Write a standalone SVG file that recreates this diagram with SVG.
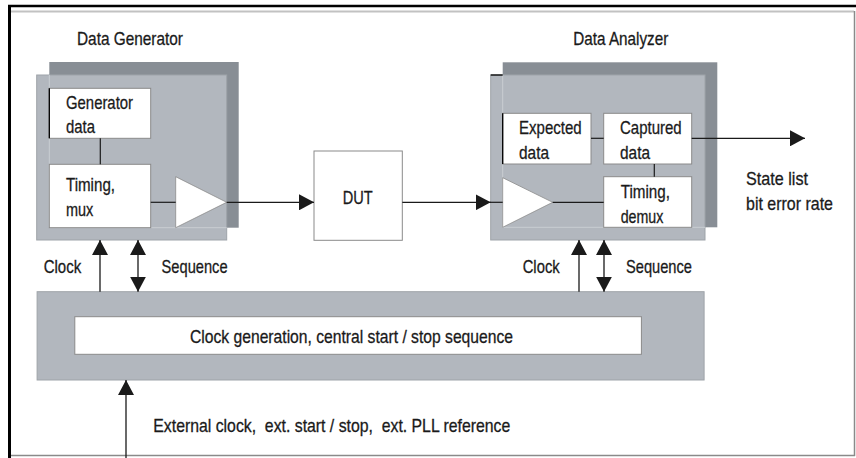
<svg xmlns="http://www.w3.org/2000/svg" width="856" height="458" viewBox="0 0 856 458">
<defs>
<style>
text{font-family:"Liberation Sans",Arial,sans-serif;font-size:19px;fill:#1a1a1a;stroke:#1a1a1a;stroke-width:0.3;}
.shadow{fill:#888e95;}
.front{fill:#b2b7be;stroke:#9ea3a9;stroke-width:1;}
.ghost{stroke:#c9cdd2;stroke-width:1;fill:none;}
.wbox{fill:#fff;stroke:#8a8a8a;stroke-width:1;}
.tri{fill:#fff;stroke:#8a8a8a;stroke-width:0.8;}
.edge{stroke:#000;stroke-width:1.3;fill:none;}
.wire{stroke:#1a1a1a;stroke-width:1.2;fill:none;}
.arr{stroke:#1a1a1a;stroke-width:1.3;fill:none;marker-end:url(#ah);}
.arr2{stroke:#1a1a1a;stroke-width:1.3;fill:none;marker-end:url(#ah);marker-start:url(#ahs);}
</style>
<marker id="ah" markerUnits="userSpaceOnUse" markerWidth="15" markerHeight="16" refX="15" refY="8" orient="auto" viewBox="0 0 15 16">
<path d="M0,0 L15,8 L0,16 z" fill="#1a1a1a"/>
</marker>
<marker id="ahs" markerUnits="userSpaceOnUse" markerWidth="15" markerHeight="16" refX="15" refY="8" orient="auto-start-reverse" viewBox="0 0 15 16">
<path d="M0,0 L15,8 L0,16 z" fill="#1a1a1a"/>
</marker>
</defs>

<g id="frame">
<line x1="8" y1="6" x2="856" y2="6" stroke="#000" stroke-width="2.5"/>
<line x1="9.5" y1="5" x2="9.5" y2="458" stroke="#000" stroke-width="3"/>
<line x1="11" y1="11.5" x2="854" y2="11.5" stroke="#c2c2c2" stroke-width="2"/>
<line x1="854.5" y1="11" x2="854.5" y2="456" stroke="#8a8a8a" stroke-width="1.5"/>
<line x1="11" y1="455.5" x2="855" y2="455.5" stroke="#8a8a8a" stroke-width="1.5"/>
</g>

<g id="data-generator">
<text x="77" y="45" textLength="106" lengthAdjust="spacingAndGlyphs">Data Generator</text>
<rect class="shadow" x="49.3" y="62" width="189.4" height="165.7"/>
<rect class="front" x="36.7" y="75" width="190" height="165"/>
<line class="ghost" x1="49.3" y1="75" x2="49.3" y2="227.7"/>
<line class="ghost" x1="49.3" y1="227.7" x2="226.7" y2="227.7"/>
<g id="generator-data">
<rect class="wbox" x="49.3" y="88.3" width="101.4" height="50"/>
<line class="edge" x1="49.3" y1="88.3" x2="49.3" y2="138.3"/>
<text x="66" y="109.3" textLength="67" lengthAdjust="spacingAndGlyphs">Generator</text>
<text x="66" y="132.7" textLength="29" lengthAdjust="spacingAndGlyphs">data</text>
</g>
<g id="timing-mux">
<rect class="wbox" x="49.3" y="164.3" width="101.4" height="63.4"/>
<text x="66" y="190.5" textLength="49" lengthAdjust="spacingAndGlyphs">Timing,</text>
<text x="66" y="215.5" textLength="27.3" lengthAdjust="spacingAndGlyphs">mux</text>
</g>
<g id="gen-driver">
<polygon class="tri" points="175.7,176.7 226.7,202.3 175.7,227.7"/>
</g>
</g>

<g id="dut">
<rect class="wbox" x="314" y="151" width="88.3" height="89.3"/>
<text x="342.7" y="204.3" textLength="30" lengthAdjust="spacingAndGlyphs">DUT</text>
</g>

<g id="data-analyzer">
<text x="573.3" y="45" textLength="95" lengthAdjust="spacingAndGlyphs">Data Analyzer</text>
<rect class="shadow" x="502.7" y="62.3" width="214.6" height="165"/>
<rect class="front" x="490.7" y="75" width="214.3" height="165"/>
<line class="ghost" x1="502.7" y1="75" x2="502.7" y2="227.3"/>
<line class="ghost" x1="502.7" y1="227.3" x2="705" y2="227.3"/>
<line class="edge" x1="490.7" y1="75" x2="502.7" y2="75"/>
<g id="expected-data">
<rect class="wbox" x="502.7" y="113.3" width="88.3" height="50.7"/>
<line class="edge" x1="502.7" y1="113.3" x2="502.7" y2="164"/>
<text x="519" y="134.3" textLength="62.7" lengthAdjust="spacingAndGlyphs">Expected</text>
<text x="519" y="159" textLength="30" lengthAdjust="spacingAndGlyphs">data</text>
</g>
<g id="captured-data">
<rect class="wbox" x="603.7" y="113.3" width="88" height="50.7"/>
<text x="620" y="134.3" textLength="61.7" lengthAdjust="spacingAndGlyphs">Captured</text>
<text x="620" y="159" textLength="30" lengthAdjust="spacingAndGlyphs">data</text>
</g>
<g id="timing-demux">
<rect class="wbox" x="603.7" y="176.7" width="88" height="50.6"/>
<text x="620.7" y="197.7" textLength="49.3" lengthAdjust="spacingAndGlyphs">Timing,</text>
<text x="620.7" y="222.7" textLength="42.7" lengthAdjust="spacingAndGlyphs">demux</text>
</g>
<g id="ana-receiver">
<polygon class="tri" points="502.7,177.7 552.7,202.3 502.7,227.3"/>
</g>
</g>

<g id="clock-generation">
<rect class="front" x="37.1" y="291.7" width="667" height="88.3"/>
<rect class="wbox" x="74.8" y="316.7" width="566.6" height="37.6"/>
<text x="190" y="343.3" textLength="323" lengthAdjust="spacingAndGlyphs">Clock generation, central start / stop sequence</text>
</g>

<g id="connectors">
<line class="wire" x1="100.3" y1="138.3" x2="100.3" y2="164.3"/>
<line class="wire" x1="150.7" y1="202.3" x2="175.7" y2="202.3"/>
<line class="wire" x1="591" y1="138.3" x2="603.7" y2="138.3"/>
<line class="wire" x1="654.3" y1="164" x2="654.3" y2="176.7"/>
<line class="wire" x1="552.7" y1="202.3" x2="603.7" y2="202.3"/>
<line class="arr" x1="226.7" y1="202.3" x2="314" y2="202.3"/>
<line class="arr" x1="402.3" y1="202.3" x2="490.7" y2="202.3"/>
<line class="wire" x1="490" y1="202.3" x2="502.7" y2="202.3"/>
<line class="arr" x1="691.7" y1="138.3" x2="805" y2="138.3"/>
<line class="arr" x1="100" y1="291.7" x2="100" y2="240"/>
<line class="arr2" x1="138" y1="291.7" x2="138" y2="240"/>
<line class="arr" x1="579" y1="291.7" x2="579" y2="240"/>
<line class="arr2" x1="604" y1="291.7" x2="604" y2="240"/>
<line class="arr" x1="126" y1="458" x2="126" y2="380"/>
</g>

<g id="labels">
<text x="746" y="185" textLength="62" lengthAdjust="spacingAndGlyphs">State list</text>
<text x="746" y="210" textLength="87" lengthAdjust="spacingAndGlyphs">bit error rate</text>
<text x="43.7" y="273.3" textLength="37.5" lengthAdjust="spacingAndGlyphs">Clock</text>
<text x="161.6" y="273.3" textLength="66" lengthAdjust="spacingAndGlyphs">Sequence</text>
<text x="522.7" y="273.3" textLength="37" lengthAdjust="spacingAndGlyphs">Clock</text>
<text x="626" y="273.3" textLength="66" lengthAdjust="spacingAndGlyphs">Sequence</text>
<text x="153.3" y="432" textLength="357" lengthAdjust="spacingAndGlyphs" xml:space="preserve">External clock,  ext. start / stop,  ext. PLL reference</text>
</g>
</svg>
